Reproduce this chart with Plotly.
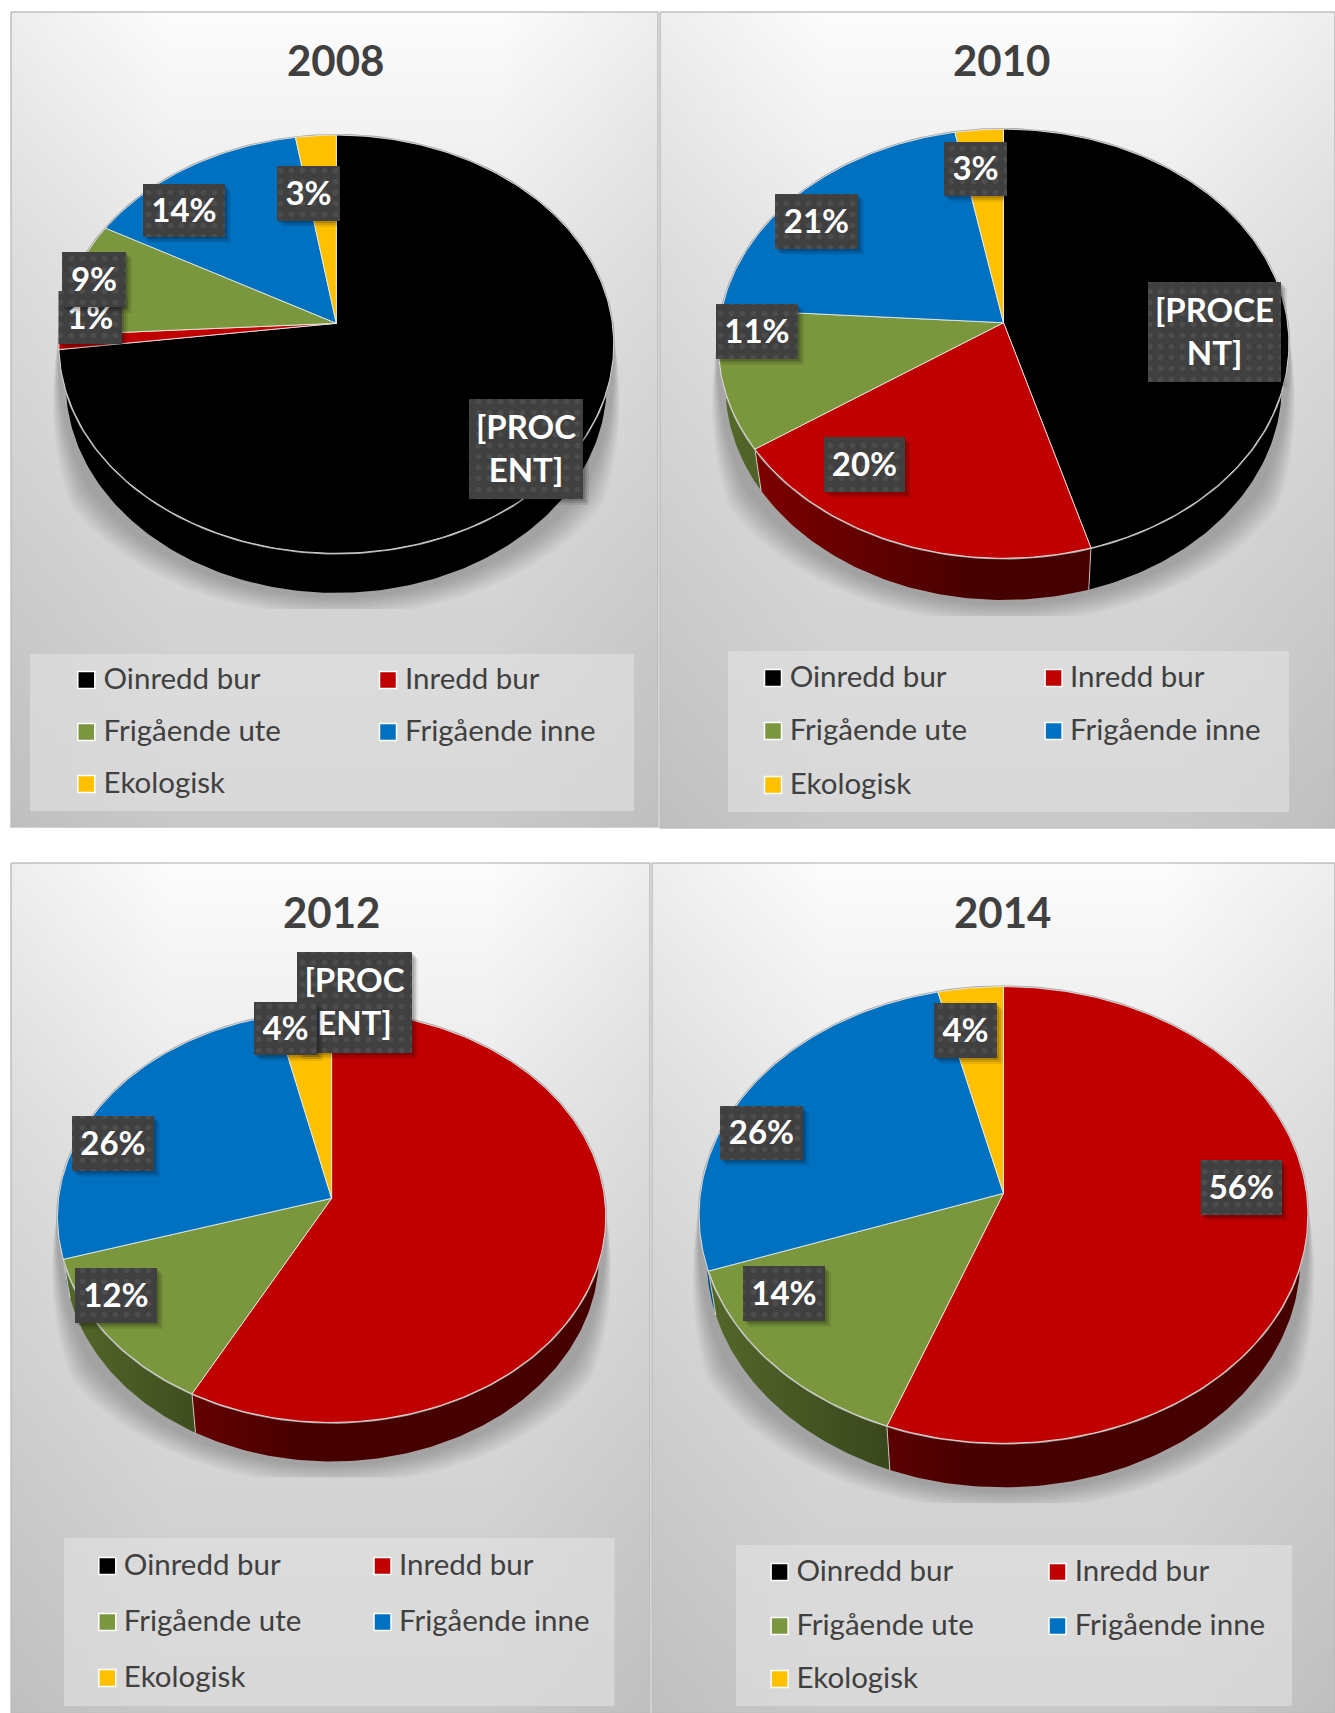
import numpy as np
import plotly.graph_objects as go

# ---------------- data ----------------
categories = ["Oinredd bur", "Inredd bur", "Frigående ute", "Frigående inne", "Ekologisk"]
colors = ["#000000", "#c00000", "#7a973d", "#0070c0", "#ffc000"]
wall_rgb = [(0, 0, 0), (192, 0, 0), (122, 151, 61), (0, 112, 192), (255, 192, 0)]

years = ["2008", "2010", "2012", "2014"]
values_2008 = [73.0, 1.1, 8.9, 14.4, 2.6]
values_2010 = [45.5, 20.0, 10.5, 21.0, 3.0]
values_2012 = [0.0, 57.8, 12.5, 26.1, 3.6]
values_2014 = [0.0, 55.7, 13.9, 26.6, 3.8]
labels_2008 = ["[PROC<br>ENT]", "1%", "9%", "14%", "3%"]
labels_2010 = ["[PROCE<br>NT]", "20%", "11%", "21%", "3%"]
labels_2012 = ["", "[PROC<br>ENT]", "12%", "26%", "4%"]
labels_2014 = ["", "56%", "14%", "26%", "4%"]

# ---------------- layout of each panel (page pixels) ----------------
panels = [
    dict(year=0, values=values_2008, labels=labels_2008,
         box=(11, 658, 12, 827), title=(335, 60),
         cx=336.3, cy=323.3, R=276, S=207, k=0.10, depth=39.6,
         legend_box=(30, 634, 654, 811), mx=(86.3, 388), rows=(680, 732, 784), tx=(103.5, 405),
         lab=[(469, 583, 399, 499), (58.5, 122, 291, 344), (62, 126, 252, 307), (143, 225, 184, 237), (277, 340, 166, 221)]),
    dict(year=1, values=values_2010, labels=labels_2010,
         box=(660, 1335, 12, 828), title=(1001, 60),
         cx=1003.5, cy=322.7, R=284, S=212.5, k=0.098, depth=41.7,
         legend_box=(728, 1289, 651, 812), mx=(773, 1053.6), rows=(678, 731, 785), tx=(789.7, 1070),
         lab=[(1148, 1281, 282, 382), (824, 905, 437, 492), (716, 798, 304, 359), (775, 858, 194, 249), (944, 1007, 142, 196)]),
    dict(year=2, values=values_2012, labels=labels_2012,
         box=(11, 650, 863, 1713), title=(331, 912),
         cx=331.6, cy=1198.3, R=273, S=204, k=0.09, depth=39,
         legend_box=(64, 614.5, 1538, 1706), mx=(107.3, 382.5), rows=(1566, 1622, 1678), tx=(123.8, 399),
         lab=[None, (297, 412, 952, 1053), (75, 157, 1268, 1323), (72, 154, 1116, 1171), (254, 317, 1002, 1055)]),
    dict(year=3, values=values_2014, labels=labels_2014,
         box=(652, 1335, 863, 1713), title=(1002, 912),
         cx=1003.5, cy=1193.3, R=303, S=226.3, k=0.095, depth=44,
         legend_box=(736, 1292, 1545, 1706), mx=(779.6, 1057.5), rows=(1572, 1626, 1679), tx=(796.4, 1074.7),
         lab=[None, (1200.7, 1282, 1160, 1215), (743, 825, 1266, 1321), (720, 803, 1106, 1160), (934, 997, 1003, 1058)]),
]
FONT = "Lato"
TEXT = "#404040"
BOTTOM_SCALE = 0.975
fig = go.Figure()


def poly(xs, ys, **kw):
    kw.setdefault("line", dict(width=0))
    fig.add_trace(go.Scatter(x=xs, y=ys, mode="lines", fill="toself", showlegend=False,
                             hoverinfo="skip", **kw))


def rect(b):
    x0, x1, y0, y1 = b
    return [x0, x1, x1, x0, x0], [y0, y0, y1, y1, y0]


def rim(p, t):
    d = 1 + p["k"] * np.sin(t)
    return p["cx"] + p["R"] * np.cos(t) / d, p["cy"] - p["S"] * np.sin(t) / d


for p in panels:
    # panel background
    xs, ys = rect(p["box"])
    poly(xs, ys, line=dict(color="#c4c4c4", width=1.5),
         fillgradient=dict(type="vertical", start=p["box"][2], stop=p["box"][3],
                           colorscale=[[0, "#fcfcfc"], [0.3, "#e8e8e8"], [0.7, "#d5d5d5"], [1, "#c8c8c8"]]))
    poly(xs, ys, fillgradient=dict(type="horizontal", start=p["box"][0], stop=p["box"][1],
                                   colorscale=[[0, "rgba(110,110,110,0.10)"], [0.25, "rgba(110,110,110,0)"],
                                               [0.75, "rgba(110,110,110,0)"], [1, "rgba(110,110,110,0.10)"]]))

    # soft shadow below the pie: widens gradually from the rim, flat cut at the bottom
    t_front = np.radians(np.linspace(-2, -178, 140))
    rx, ry0 = rim(p, t_front)
    cut = ry0.max() + p["depth"] + 16
    taper = np.clip((ry0 - p["cy"] - 8) / 110, 0, 1)
    for i in range(9):
        e = 3 + 20 * (1 - i / 9)
        sx = p["cx"] + (rx - p["cx"]) * (1 + e * taper / p["R"])
        sy = np.minimum(ry0 + (p["depth"] + e) * taper, cut)
        poly(np.r_[sx, sx[0]], np.r_[sy, sy[0]], fillcolor="rgba(0,0,0,0.027)")

    # pie side wall, then top face
    cum = np.cumsum([0] + p["values"])
    limit = -np.arcsin(p["k"])
    seps_x, seps_y = [], []
    for i, v in enumerate(p["values"]):
        if v <= 0:
            continue
        a0 = np.pi / 2 - 2 * np.pi * cum[i] / 100
        a1 = np.pi / 2 - 2 * np.pi * cum[i + 1] / 100
        t = np.linspace(a0, a1, max(int(v * 4), 6))
        front = np.sin(t) <= np.sin(limit)
        if front.sum() > 1:
            wx, wy = rim(p, t[front])
            bx = p["cx"] + (wx - p["cx"]) * BOTTOM_SCALE
            base = wall_rgb[i]
            c0 = "rgb(%d,%d,%d)" % tuple(int(c * 0.7) for c in base)
            c1 = "rgb(%d,%d,%d)" % tuple(int(c * 0.37) for c in base)
            poly(np.r_[wx, bx[::-1]], np.r_[wy, wy[::-1] + p["depth"]],
                 fillgradient=dict(type="horizontal", start=p["cx"] - p["R"], stop=p["cx"] + p["R"],
                                   colorscale=[[0, c0], [0.45, c1], [1, c1]]))
        if np.sin(a1) <= np.sin(limit):
            ex, ey = rim(p, np.array([a1]))
            seps_x += [ex[0], p["cx"] + (ex[0] - p["cx"]) * BOTTOM_SCALE, None]
            seps_y += [ey[0], ey[0] + p["depth"], None]
    fig.add_trace(go.Scatter(x=seps_x, y=seps_y, mode="lines", showlegend=False, hoverinfo="skip",
                             line=dict(color="rgba(255,255,255,0.7)", width=1)))
    ox, oy = rim(p, np.linspace(0, 2 * np.pi, 240))
    fig.add_trace(go.Scatter(x=ox, y=oy, mode="lines", showlegend=False, hoverinfo="skip",
                             line=dict(color="#a6a6a6", width=2.5)))
    for i, v in enumerate(p["values"]):
        if v <= 0:
            continue
        t = np.linspace(np.pi / 2 - 2 * np.pi * cum[i] / 100, np.pi / 2 - 2 * np.pi * cum[i + 1] / 100,
                        max(int(v * 4), 6))
        wx, wy = rim(p, t)
        poly(np.r_[p["cx"], wx, p["cx"]], np.r_[p["cy"], wy, p["cy"]], fillcolor=colors[i],
             name=categories[i], line=dict(color="rgba(235,235,235,0.85)", width=1))

    # data labels
    for i, b in enumerate(p["lab"]):
        if b is None:
            continue
        for off, alpha in ((6, 0.08), (4, 0.12), (2, 0.14)):
            sx, sy = rect((b[0] + off, b[1] + off, b[2] + off, b[3] + off))
            poly(sx, sy, fillcolor="rgba(0,0,0,%g)" % alpha)
        sx, sy = rect(b)
        poly(sx, sy, fillcolor="#404040",
             fillpattern=dict(shape=".", bgcolor="#404040", fgcolor="#5a5a5a", size=11, solidity=0.2))
        fig.add_trace(go.Scatter(x=[(b[0] + b[1]) / 2], y=[(b[2] + b[3]) / 2 + 3], mode="text",
                                 text=[p["labels"][i]], showlegend=False, hoverinfo="skip",
                                 textposition="middle center",
                                 textfont=dict(family=FONT, size=33, color="white", weight="bold")))

    # legend block
    xs, ys = rect(p["legend_box"])
    poly(xs, ys, fillcolor="rgba(226,226,226,0.62)")
    order = [(0, 0), (1, 0), (0, 1), (1, 1), (0, 2)]
    for i, (col, row) in enumerate(order):
        fig.add_trace(go.Scatter(x=[p["mx"][col]], y=[p["rows"][row]], mode="markers", showlegend=False,
                                 hoverinfo="skip",
                                 marker=dict(symbol="square", size=17, color=colors[i],
                                             line=dict(color="white", width=1.5))))
        fig.add_trace(go.Scatter(x=[p["tx"][col]], y=[p["rows"][row] + 2], mode="text", showlegend=False,
                                 hoverinfo="skip", text=[categories[i]], textposition="middle right",
                                 textfont=dict(family=FONT, size=29.5, color=TEXT)))

    fig.add_annotation(x=p["title"][0], y=p["title"][1], text=years[p["year"]], showarrow=False,
                       font=dict(family=FONT, size=42, color=TEXT, weight="bold"))

fig.update_layout(width=1335, height=1713, autosize=False, margin=dict(l=0, r=0, t=0, b=0),
                  paper_bgcolor="white", plot_bgcolor="white", showlegend=False,
                  xaxis=dict(range=[0, 1335], visible=False, domain=[0, 1], fixedrange=True),
                  yaxis=dict(range=[1713, 0], visible=False, domain=[0, 1], fixedrange=True))
fig.write_html("out.html", config=dict(displayModeBar=False),
               post_script="document.body.style.margin='0';document.body.style.overflow='hidden';")
